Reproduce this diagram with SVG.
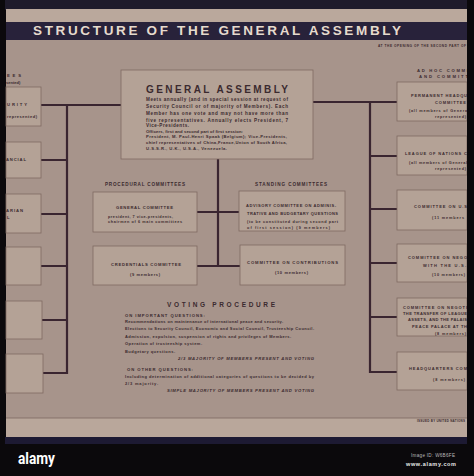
<svg xmlns="http://www.w3.org/2000/svg" width="474" height="476" viewBox="0 0 474 476">
<style>
.bx{fill:#b4a296;stroke:#7f6a62;stroke-width:0.8}
.ln{stroke:#3a2530;stroke-width:2.2;fill:none;stroke-linecap:square}
.t{font-family:"Liberation Sans",Arial,sans-serif;fill:#3b2a2f;font-weight:bold}
.s{font-size:4.2px}
.h{font-size:4.6px;letter-spacing:0.6px}
.b{font-size:4.6px}
.m{text-anchor:middle}
.e{text-anchor:end}
.i{font-style:italic}
</style>
<rect x="0" y="0" width="474" height="476" fill="#0b090c"/>
<rect x="4" y="0" width="466" height="10" fill="#1f1b2b"/>
<rect x="6" y="9" width="462" height="430" fill="#a7948b"/>
<rect x="6" y="9" width="462" height="13" fill="#baa89c"/>
<rect x="6" y="22" width="462" height="18" fill="#28223a"/>
<text x="33" y="35" textLength="368" lengthAdjust="spacing" font-family="Liberation Sans,Arial,sans-serif" font-weight="bold" font-size="13.5" fill="#e6dacd">STRUCTURE OF THE GENERAL ASSEMBLY</text>
<text class="t" x="378" y="47" font-size="3.2" textLength="88" lengthAdjust="spacing">AT THE OPENING OF THE SECOND PART OF</text>
<rect x="6" y="418" width="462" height="20" fill="#b9a79b"/>
<line x1="6" y1="418" x2="468" y2="418" stroke="#7c6860" stroke-width="0.8"/>
<text class="t e" x="465" y="422" font-size="3" textLength="48" lengthAdjust="spacing">ISSUED BY UNITED NATIONS</text>
<rect x="4" y="437" width="466" height="7" fill="#1d1a33"/>

<g id="connectors">
<path class="ln" d="M41 105H121 M67 105V373 M41 160H67 M41 214H67 M41 266H67 M41 320H67 M42 373H67"/>
<path class="ln" d="M313 102H397 M370 102V372 M370 156H397 M370 209H397 M370 263H397 M370 317H397 M370 372H397"/>
<path class="ln" d="M218 159V266 M197 212H239 M197 266H240"/>
</g>

<g id="main-committees-header">
<text class="t" x="7" y="77" font-size="4.2" textLength="14" lengthAdjust="spacing">EES</text>
<text class="t" x="6" y="84" font-size="4" font-weight="normal">sented)</text>
</g>
<g id="main-1"><rect class="bx" x="6" y="87" width="35" height="39"/>
<text class="t" x="7" y="106" font-size="4.2" textLength="20" lengthAdjust="spacing">URITY</text>
<text class="t" x="7" y="118" font-size="4" textLength="30" lengthAdjust="spacing">represented)</text></g>
<g id="main-2"><rect class="bx" x="6" y="142" width="35" height="36"/>
<text class="t" x="6" y="161" font-size="4.2" textLength="20" lengthAdjust="spacing">ANCIAL</text></g>
<g id="main-3"><rect class="bx" x="6" y="194" width="35" height="39"/>
<text class="t" x="6" y="212" font-size="4.2" textLength="17" lengthAdjust="spacing">ARIAN</text>
<text class="t" x="7" y="219" font-size="4.2">L</text></g>
<g id="main-4"><rect class="bx" x="6" y="247" width="35" height="38"/></g>
<g id="main-5"><rect class="bx" x="6" y="301" width="36" height="38"/></g>
<g id="main-6"><rect class="bx" x="6" y="354" width="37" height="39"/></g>

<g id="general-assembly">
<rect class="bx" x="121" y="70" width="192" height="89"/>
<text class="t" x="146" y="92.5" font-size="10" textLength="142" lengthAdjust="spacing" fill="#3a2835">GENERAL ASSEMBLY</text>
<text class="t b" x="146" y="101" textLength="142" lengthAdjust="spacing">Meets annually (and in special session at request of</text>
<text class="t b" x="146" y="108.3" textLength="142" lengthAdjust="spacing">Security Council or of majority of Members). Each</text>
<text class="t b" x="146" y="115.3" textLength="142" lengthAdjust="spacing">Member has one vote and may not have more than</text>
<text class="t b" x="146" y="121.5" textLength="142" lengthAdjust="spacing">five representatives. Annually elects President, 7</text>
<text class="t b" x="146" y="127.3" textLength="43" lengthAdjust="spacing">Vice-Presidents.</text>
<text class="t s" x="146" y="133" textLength="97" lengthAdjust="spacing">Officers, first and second part of first session:</text>
<text class="t s" x="146" y="138.3" textLength="141" lengthAdjust="spacing">President, M. Paul-Henri Spaak (Belgium); Vice-Presidents,</text>
<text class="t s" x="146" y="144.3" textLength="141" lengthAdjust="spacing">chief representatives of China,France,Union of South Africa,</text>
<text class="t s" x="146" y="150.3" textLength="81" lengthAdjust="spacing">U.S.S.R., U.K., U.S.A., Venezuela.</text>
</g>

<g id="procedural-label"><text class="t" x="105" y="186" font-size="4.6" textLength="80" lengthAdjust="spacing">PROCEDURAL COMMITTEES</text></g>
<g id="standing-label"><text class="t" x="255" y="186" font-size="4.6" textLength="72" lengthAdjust="spacing">STANDING COMMITTEES</text></g>

<g id="general-committee"><rect class="bx" x="93" y="192" width="104" height="40"/>
<text class="t" x="116" y="209" font-size="4.2" textLength="57" lengthAdjust="spacing">GENERAL COMMITTEE</text>
<text class="t" x="108" y="217.5" font-size="3.8" textLength="65" lengthAdjust="spacing">president, 7 vice-presidents,</text>
<text class="t" x="108" y="222.5" font-size="3.8" textLength="74" lengthAdjust="spacing">chairmen of 6 main committees</text></g>
<g id="credentials-committee"><rect class="bx" x="93" y="246" width="104" height="39"/>
<text class="t" x="111" y="265.5" font-size="4.2" textLength="70" lengthAdjust="spacing">CREDENTIALS COMMITTEE</text>
<text class="t" x="130" y="275.5" font-size="4" textLength="30" lengthAdjust="spacing">(9 members)</text></g>
<g id="advisory-committee"><rect class="bx" x="239" y="191" width="106" height="40"/>
<text class="t" x="246" y="206.5" font-size="4" textLength="90" lengthAdjust="spacing">ADVISORY COMMITTEE ON ADMINIS-</text>
<text class="t" x="247" y="214.5" font-size="4" textLength="91" lengthAdjust="spacing">TRATIVE AND BUDGETARY QUESTIONS</text>
<text class="t" x="247" y="222.5" font-size="3.8" textLength="91" lengthAdjust="spacing">(to be constituted during second part</text>
<text class="t" x="247" y="228.5" font-size="3.8" textLength="83" lengthAdjust="spacing">of first session)      (9 members)</text></g>
<g id="contributions-committee"><rect class="bx" x="240" y="245" width="105" height="40"/>
<text class="t" x="247" y="264" font-size="4.2" textLength="91" lengthAdjust="spacing">COMMITTEE ON CONTRIBUTIONS</text>
<text class="t" x="275" y="273.5" font-size="4" textLength="33" lengthAdjust="spacing">(10 members)</text></g>

<g id="voting-procedure">
<text class="t" x="167" y="306.5" font-size="6.5" textLength="108" lengthAdjust="spacing">VOTING PROCEDURE</text>
<text class="t" x="125" y="316.5" font-size="4.2" textLength="80" lengthAdjust="spacing">ON IMPORTANT QUESTIONS:</text>
<text class="t" x="125" y="322.5" font-size="4" textLength="158" lengthAdjust="spacing">Recommendations on maintenance of international peace and security.</text>
<text class="t" x="125" y="330" font-size="4" textLength="189" lengthAdjust="spacing">Elections to Security Council, Economic and Social Council, Trusteeship Council.</text>
<text class="t" x="125" y="338" font-size="4" textLength="166" lengthAdjust="spacing">Admission, expulsion, suspension of rights and privileges of Members.</text>
<text class="t" x="125" y="345" font-size="4" textLength="77" lengthAdjust="spacing">Operation of trusteeship system.</text>
<text class="t" x="125" y="352.8" font-size="4" textLength="50" lengthAdjust="spacing">Budgetary questions.</text>
<text class="t i" x="178" y="360" font-size="4.2" textLength="136" lengthAdjust="spacing">2/3 MAJORITY OF MEMBERS PRESENT AND VOTING</text>
<text class="t" x="127" y="370.5" font-size="4.2" textLength="66" lengthAdjust="spacing">ON OTHER QUESTIONS:</text>
<text class="t" x="125" y="377.5" font-size="4" textLength="189" lengthAdjust="spacing">Including determination of additional categories of questions to be decided by</text>
<text class="t" x="125" y="384.5" font-size="4" textLength="33" lengthAdjust="spacing">2/3 majority.</text>
<text class="t i" x="167" y="392" font-size="4.2" textLength="147" lengthAdjust="spacing">SIMPLE MAJORITY OF MEMBERS PRESENT AND VOTING</text>
</g>

<g id="adhoc-header">
<text class="t" x="417" y="71.5" font-size="4.2" textLength="51" lengthAdjust="spacing">AD HOC COMMI</text>
<text class="t" x="419" y="78" font-size="4.2" textLength="49" lengthAdjust="spacing">AND COMMITT</text>
</g>
<g id="adhoc-1"><rect class="bx" x="397" y="82" width="70" height="39"/>
<text class="t" x="411" y="96.5" font-size="4" textLength="56" lengthAdjust="spacing">PERMANENT HEADQU</text>
<text class="t" x="435" y="104" font-size="4" textLength="31" lengthAdjust="spacing">COMMITTEE</text>
<text class="t" x="409" y="111.5" font-size="3.8" textLength="58" lengthAdjust="spacing">(all members of Genera</text>
<text class="t" x="435" y="117.5" font-size="3.8" textLength="31" lengthAdjust="spacing">represented)</text></g>
<g id="adhoc-2"><rect class="bx" x="397" y="136" width="70" height="39"/>
<text class="t" x="405" y="154.5" font-size="4" textLength="62" lengthAdjust="spacing">LEAGUE OF NATIONS C</text>
<text class="t" x="409" y="164" font-size="3.8" textLength="58" lengthAdjust="spacing">(all members of General</text>
<text class="t" x="435" y="170" font-size="3.8" textLength="31" lengthAdjust="spacing">represented)</text></g>
<g id="adhoc-3"><rect class="bx" x="397" y="190" width="70" height="40"/>
<text class="t" x="414" y="207.5" font-size="4" textLength="53" lengthAdjust="spacing">COMMITTEE ON U.S</text>
<text class="t" x="432" y="218.5" font-size="3.8" textLength="32" lengthAdjust="spacing">(11 members</text></g>
<g id="adhoc-4"><rect class="bx" x="397" y="244" width="70" height="38"/>
<text class="t" x="408" y="258.5" font-size="4" textLength="59" lengthAdjust="spacing">COMMITTEE ON NEGO</text>
<text class="t" x="423" y="266.5" font-size="4" textLength="43" lengthAdjust="spacing">WITH THE U.S.</text>
<text class="t" x="432" y="275.5" font-size="3.8" textLength="33" lengthAdjust="spacing">(10 members)</text></g>
<g id="adhoc-5"><rect class="bx" x="397" y="298" width="70" height="38"/>
<text class="t" x="403" y="308.5" font-size="4" textLength="64" lengthAdjust="spacing">COMMITTEE ON NEGOTI</text>
<text class="t" x="403" y="314.5" font-size="4" textLength="64" lengthAdjust="spacing">THE TRANSFER OF LEAGUE</text>
<text class="t" x="408" y="321.3" font-size="4" textLength="59" lengthAdjust="spacing">ASSETS, AND THE PALAIS</text>
<text class="t" x="412" y="327.5" font-size="4" textLength="55" lengthAdjust="spacing">PEACE PALACE AT TH</text>
<text class="t" x="435" y="334.5" font-size="3.8" textLength="31" lengthAdjust="spacing">(8 members)</text></g>
<g id="adhoc-6"><rect class="bx" x="397" y="352" width="70" height="38"/>
<text class="t" x="409" y="369.5" font-size="4" textLength="58" lengthAdjust="spacing">HEADQUARTERS COM</text>
<text class="t" x="433" y="380.5" font-size="3.8" textLength="32" lengthAdjust="spacing">(8 members)</text></g>

<rect x="0" y="0" width="5" height="476" fill="#0b090c"/>
<rect x="467" y="0" width="7" height="476" fill="#0b090c"/>

<g id="credit">
<text x="18" y="464" font-family="Roboto,Liberation Sans,sans-serif" font-weight="bold" font-size="17" fill="#ffffff" textLength="37" lengthAdjust="spacingAndGlyphs">alamy</text>
<text x="411" y="457" font-family="Liberation Sans,Arial,sans-serif" font-size="4.6" fill="#b8b8b8" textLength="44" lengthAdjust="spacing">Image ID: W6B6FE</text>
<text x="406" y="465.5" font-family="Liberation Sans,Arial,sans-serif" font-weight="bold" font-size="5.5" fill="#e8e8e8" textLength="50" lengthAdjust="spacing">www.alamy.com</text>
</g>
</svg>
